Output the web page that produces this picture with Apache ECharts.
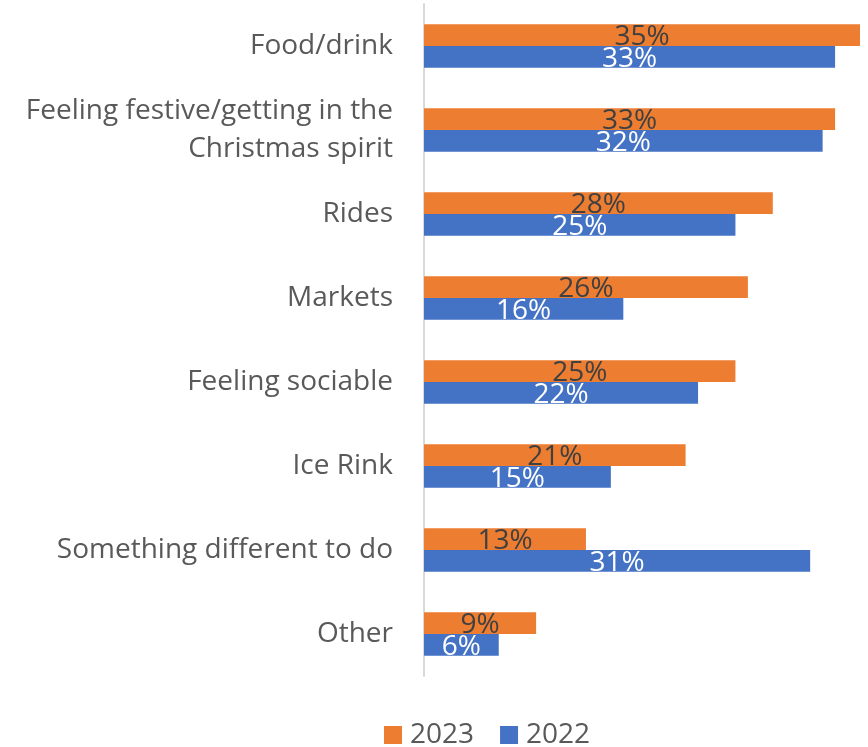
<!DOCTYPE html>
<html>
<head>
<meta charset="utf-8">
<script src="https://cdn.jsdelivr.net/npm/echarts@6/dist/echarts.min.js"></script>
<style>
  html, body { margin: 0; padding: 0; background: #fff; }
  #chart { width: 868px; height: 747px; }
</style>
</head>
<body>
<div id="chart"></div>
<script>
// Reasons for visiting, share of respondents (%)
const categories = [
  'Food/drink',
  'Feeling festive/getting in the\nChristmas spirit',
  'Rides',
  'Markets',
  'Feeling sociable',
  'Ice Rink',
  'Something different to do',
  'Other'
];
const values2023 = [35, 33, 28, 26, 25, 21, 13, 9];
const values2022 = [33, 32, 25, 16, 22, 15, 31, 6];
const seriesNames = ['2023', '2022'];

const FONT = '"Open Sans", "Noto Sans", sans-serif';

const chart = echarts.init(document.getElementById('chart'));
chart.setOption({
  animation: false,
  textStyle: { fontFamily: FONT },
  grid: { left: 424, right: 8, top: 4, bottom: 71 },
  legend: {
    top: 716,
    left: 379,
    itemWidth: 18,
    itemHeight: 18,
    itemGap: 26,
    icon: 'rect',
    textStyle: { fontSize: 28, color: '#595959', fontFamily: FONT, padding: [0, 0, 0, 3] },
    data: seriesNames
  },
  xAxis: {
    type: 'value',
    min: 0,
    max: 35,
    show: false
  },
  yAxis: {
    type: 'category',
    inverse: true,
    data: categories,
    axisLine: { show: true, lineStyle: { color: '#D9D9D9', width: 2 } },
    axisTick: { show: false },
    axisLabel: {
      margin: 31,
      fontSize: 28,
      color: '#595959',
      lineHeight: 38,
      align: 'right',
      fontFamily: FONT
    }
  },
  series: [
    {
      name: seriesNames[0],
      type: 'bar',
      data: values2023,
      barGap: '0%',
      barCategoryGap: '48%',
      itemStyle: { color: '#ED7D31' },
      label: {
        show: true,
        position: 'inside',
        offset: [0, 2],
        formatter: '{c}%',
        fontSize: 28,
        color: '#404040',
        fontFamily: FONT
      }
    },
    {
      name: seriesNames[1],
      type: 'bar',
      data: values2022,
      barGap: '0%',
      barCategoryGap: '48%',
      itemStyle: { color: '#4472C4' },
      label: {
        show: true,
        position: 'inside',
        offset: [0, 2],
        formatter: '{c}%',
        fontSize: 28,
        color: '#FFFFFF',
        fontFamily: FONT
      }
    }
  ]
});
</script>
</body>
</html>
